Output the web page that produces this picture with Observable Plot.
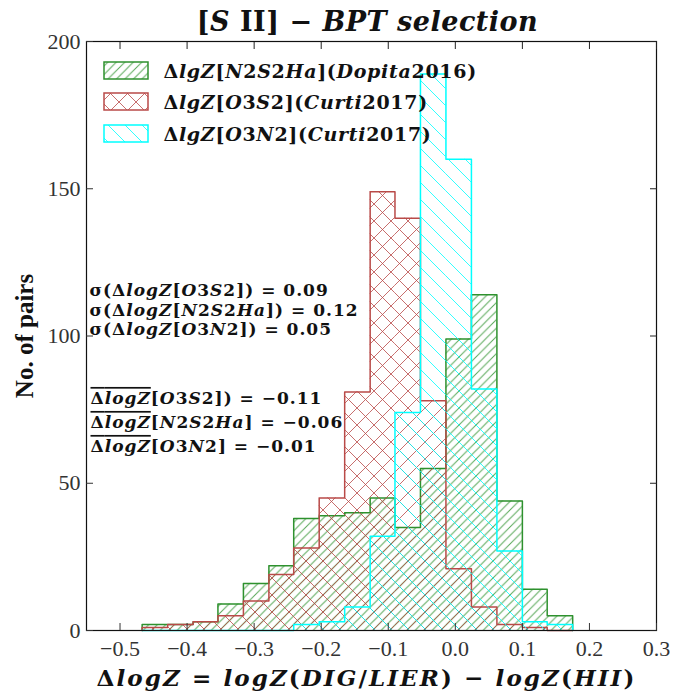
<!DOCTYPE html>
<html><head><meta charset="utf-8">
<script src="https://cdn.jsdelivr.net/npm/d3@7"></script>
<script src="https://cdn.jsdelivr.net/npm/@observablehq/plot@0.6"></script>
<style>
body{margin:0;background:#fff}
svg{font-family:"DejaVu Serif",serif;background:#fff}
</style>
</head><body><div id="chart"></div>
<script>
// ---- data ----
const binEdges = [-0.467, -0.429, -0.391, -0.354, -0.316, -0.278, -0.241, -0.203, -0.165, -0.127, -0.090, -0.052, -0.014, 0.024, 0.062, 0.100, 0.137, 0.175];
const countsN2S2Ha = [2, 2, 3, 9, 16, 22, 38, 39, 40, 45, 35, 55, 99, 114, 44, 14, 5];
const countsO3S2   = [1, 2, 3, 5, 10, 19, 28, 45, 81, 149, 140, 78, 21, 8, 2, 1, 0];
const countsO3N2   = [0, 0, 0, 0, 0, 0, 2, 3, 8, 32, 74, 189, 160, 82, 27, 3, 2];
const seriesNames  = ["ΔlgZ[N2S2Ha](Dopita2016)", "ΔlgZ[O3S2](Curti2017)", "ΔlgZ[O3N2](Curti2017)"];
const seriesColors = ["#2e912e", "#b94a48", "#00ffff"];
const seriesHatch  = ["hatchG", "hatchR", "hatchC"];
const xTicks = [-0.5, -0.4, -0.3, -0.2, -0.1, 0.0, 0.1, 0.2, 0.3];
const yTicks = [0, 50, 100, 150, 200];
const sigmaLines = ["σ(ΔlogZ[O3S2]) = 0.09", "σ(ΔlogZ[N2S2Ha]) = 0.12", "σ(ΔlogZ[O3N2]) = 0.05"];
const meanLines  = ["ΔlogZ[O3S2]) = −0.11", "ΔlogZ[N2S2Ha] = −0.06", "ΔlogZ[O3N2] = −0.01"];
const titleText = "[S II] − BPT selection";
const xLabel = "ΔlogZ = logZ(DIG/LIER) − logZ(HII)";
const yLabel = "No. of pairs";

const allCounts = [countsN2S2Ha, countsO3S2, countsO3N2];

function binRows(counts) {
  return counts.map((c, i) => ({x1: binEdges[i], x2: binEdges[i + 1], y: c}));
}
function outlineRows(counts) {
  const n = counts.length;
  const pts = [{x: binEdges[0], y: 0}];
  counts.forEach((c, i) => pts.push({x: binEdges[i], y: c}));
  pts.push({x: binEdges[n], y: counts[n - 1]});
  pts.push({x: binEdges[n], y: 0});
  return pts;
}

const marks = [];
allCounts.forEach((counts, k) => {
  marks.push(Plot.rectY(binRows(counts), {x1: "x1", x2: "x2", y: "y", fill: `url(#${seriesHatch[k]})`}));
  marks.push(Plot.line(outlineRows(counts), {x: "x", y: "y", curve: "step-after", stroke: seriesColors[k], strokeWidth: 1.5}));
});

const tickFmt = d3.format(".1f");
marks.push(
  Plot.frame({stroke: "#111", strokeWidth: 1.2}),
  Plot.axisX({ticks: xTicks, anchor: "bottom", tickSize: -7, tickPadding: 17, tickFormat: tickFmt, fontSize: 22, fontFamily: "Liberation Serif", fontWeight: "normal", color: "#333", label: null}),
  Plot.axisX({ticks: xTicks, anchor: "top", tickSize: -7, tickFormat: () => "", color: "#222", label: null}),
  Plot.axisY({ticks: yTicks, anchor: "left", tickSize: -7, tickPadding: 13, tickFormat: d => String(d), fontSize: 22, fontFamily: "Liberation Serif", fontWeight: "normal", color: "#333", label: null}),
  Plot.axisY({ticks: yTicks, anchor: "right", tickSize: -7, tickFormat: () => "", color: "#222", label: null}),
  Plot.text([titleText], {frameAnchor: "top", lineAnchor: "middle", dy: -19, dx: -4, fontSize: 27, fontWeight: "bold", fill: "#111"}),
  Plot.text([xLabel], {frameAnchor: "bottom", lineAnchor: "middle", dy: 48, dx: -5, fontSize: 23, fontWeight: "bold", fill: "#111"}),
  Plot.text([yLabel], {frameAnchor: "left", dx: -62, rotate: -90, textAnchor: "middle", fontSize: 25, fontFamily: "Liberation Serif", fontWeight: "bold", fill: "#111"})
);
const sigmaY = [249, 269, 288];
const meanY = [357, 381, 405];
const textOpts = {frameAnchor: "top-left", lineAnchor: "middle", textAnchor: "start", fontWeight: "bold", fill: "#111"};
sigmaLines.forEach((s, i) => marks.push(Plot.text([s], {...textOpts, dx: 3, dy: sigmaY[i], fontSize: 17})));
meanLines.forEach((s, i) => marks.push(Plot.text([s], {...textOpts, dx: 4, dy: meanY[i], fontSize: 17})));
const legendY = [30, 61, 93];
seriesNames.forEach((s, i) => marks.push(Plot.text([s], {...textOpts, dx: 77, dy: legendY[i], fontSize: 19})));

const svg = Plot.plot({
  width: 673, height: 694,
  marginTop: 41, marginLeft: 86, marginRight: 17, marginBottom: 64,
  x: {domain: [-0.55, 0.3], label: null},
  y: {domain: [0, 200], label: null},
  style: {fontFamily: "DejaVu Serif, serif", background: "#fff", overflow: "visible"},
  marks
});
document.getElementById("chart").appendChild(svg);

// ---- hatch patterns ----
const NS = "http://www.w3.org/2000/svg";
const defs = d3.select(svg).insert("defs", ":first-child");
function pattern(id, size, paths, color) {
  const p = defs.append("pattern").attr("id", id).attr("patternUnits", "userSpaceOnUse")
    .attr("width", size).attr("height", size);
  paths.forEach(d => p.append("path").attr("d", d).attr("stroke", color).attr("stroke-width", 1)
    .attr("stroke-opacity", 0.8).attr("fill", "none"));
}
function fwd(P) { return [`M-1,1 l2,-2`, `M0,${P} l${P},${-P}`, `M${P - 1},${P + 1} l2,-2`]; }
function back(P) { return [`M-1,${P - 1} l2,2`, `M0,0 l${P},${P}`, `M${P - 1},-1 l2,2`]; }
pattern("hatchG", 8.5, fwd(8.5), seriesColors[0]);
pattern("hatchR", 17, fwd(17).concat(back(17)), seriesColors[1]);
pattern("hatchC", 17, back(17), seriesColors[2]);

// ---- legend swatches ----
const frameLeft = 86, frameTop = 41;
const lg = d3.select(svg).append("g");
seriesNames.forEach((s, i) => {
  lg.append("rect").attr("x", frameLeft + 18).attr("y", frameTop + legendY[i] - 9).attr("width", 44).attr("height", 17)
    .attr("fill", `url(#${seriesHatch[i]})`).attr("stroke", seriesColors[i]).attr("stroke-width", 1.5);
});

// ---- math-style rich text: letters italic, overlines on mean symbols ----
const spacing = new Map([[xLabel, 2.1], [titleText, 0.5], ...seriesNames.map(s => [s, 0.7]),
  ...sigmaLines.map(s => [s, 1]), ...meanLines.map(s => [s, 1])]);
d3.select(svg).selectAll("text").each(function() {
  const str = this.textContent;
  if (!spacing.has(str) || this.children.length) return;
  this.style.letterSpacing = spacing.get(str) + "px";
  const upright = new Set();
  if (str === titleText) { const k = str.indexOf("II"); upright.add(k); upright.add(k + 1); }
  const over = meanLines.includes(str) ? 5 : 0;
  const runs = [];
  for (let i = 0; i < str.length; i++) {
    const ch = str[i];
    const it = /[A-Za-z]/.test(ch) && !upright.has(i);
    const ov = i < over;
    const key = it + "|" + ov;
    if (runs.length && runs[runs.length - 1].key === key) runs[runs.length - 1].t += ch;
    else runs.push({key, t: ch, it, ov});
  }
  this.textContent = "";
  for (const r of runs) {
    const ts = document.createElementNS(NS, "tspan");
    ts.textContent = r.t;
    if (r.it) ts.setAttribute("font-style", "italic");
    if (r.ov) ts.setAttribute("text-decoration", "overline");
    this.appendChild(ts);
  }
});
</script>
</body></html>
